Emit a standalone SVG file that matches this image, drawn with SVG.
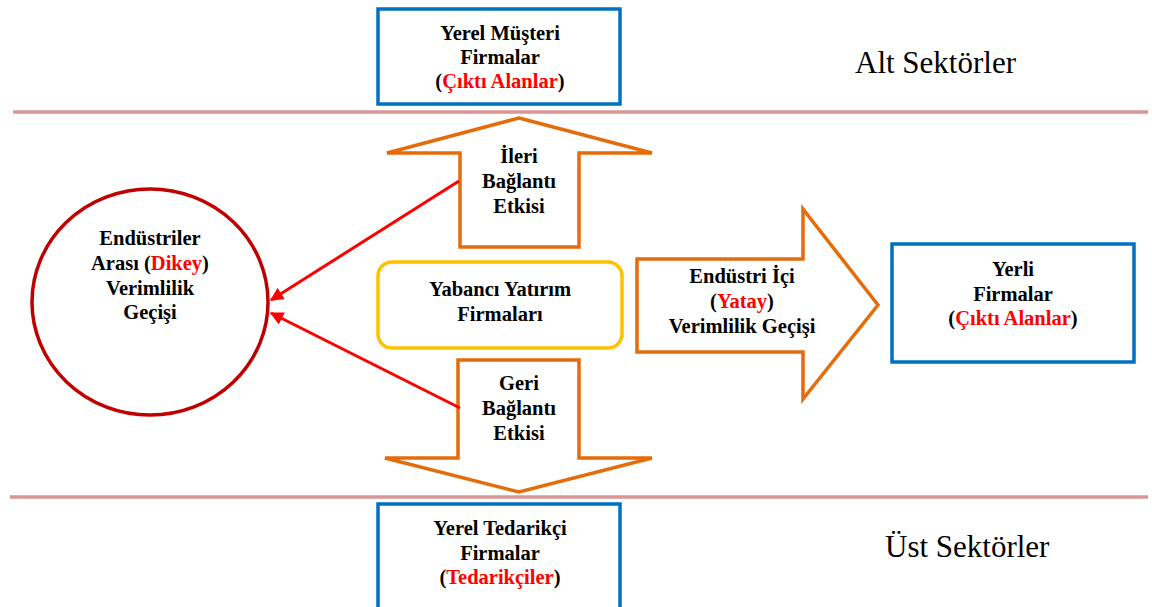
<svg xmlns="http://www.w3.org/2000/svg" width="1152" height="607" viewBox="0 0 1152 607" font-family="Liberation Serif, Times New Roman, serif">
<style>
svg text,svg tspan,#labels text,#musteri text,#ileri text,#dikey text,#yabanci text,#geri text,#yatay text,#yerli text,#tedarikci text{font-family:"Liberation Serif","Times New Roman",serif !important}
text{font-weight:bold;font-size:20.5px;fill:#000;text-anchor:middle}
.r{fill:#FF0000}
#labels text{font-weight:normal;font-size:31px;text-anchor:start}
.box{fill:#fff;stroke:#0070C0;stroke-width:3.5}
.arr{fill:#fff;stroke:#E46C0A;stroke-width:3.5;stroke-linejoin:miter}
.sep{stroke:#D99694;stroke-width:3.5}
.con{stroke:#FF0000;stroke-width:3;fill:none}
</style>
<defs>
<marker id="ah" viewBox="0 0 10 10" refX="9" refY="5" markerWidth="4.5" markerHeight="4.5" orient="auto" markerUnits="strokeWidth">
<path d="M0,0 L10,5 L0,10 z" fill="#FF0000"/>
</marker>
</defs>
<rect width="1152" height="607" fill="#fff"/>
<g id="separators">
<line class="sep" x1="13" y1="112" x2="1148" y2="112"/>
<line class="sep" x1="10" y1="497" x2="1148" y2="497"/>
</g>
<g id="labels">
<text x="855" y="73" style="font-family:'Liberation Serif',serif !important">Alt Sektörler</text>
<text x="885" y="557" style="font-family:'Liberation Serif',serif !important">Üst Sektörler</text>
</g>
<g id="musteri">
<rect class="box" x="378" y="9" width="242" height="95"/>
<text x="500" y="40" style="font-family:'Liberation Serif',serif !important">Yerel Müşteri</text>
<text x="500" y="64" style="font-family:'Liberation Serif',serif !important">Firmalar</text>
<text x="500" y="88" style="font-family:'Liberation Serif',serif !important">(<tspan class="r">Çıktı Alanlar</tspan>)</text>
</g>
<g id="ileri">
<path class="arr" d="M519,118 L652,153 L579,153 L579,247 L460,247 L460,153 L387,153 Z"/>
<text x="519" y="163" style="font-family:'Liberation Serif',serif !important">İleri</text>
<text x="519" y="188" style="font-family:'Liberation Serif',serif !important">Bağlantı</text>
<text x="519" y="213" style="font-family:'Liberation Serif',serif !important">Etkisi</text>
</g>
<g id="dikey">
<ellipse cx="150" cy="302" rx="118" ry="113" fill="#fff" stroke="#C00000" stroke-width="3.5"/>
<text x="150" y="245" style="font-family:'Liberation Serif',serif !important">Endüstriler</text>
<text x="150" y="270" style="font-family:'Liberation Serif',serif !important">Arası (<tspan class="r">Dikey</tspan>)</text>
<text x="150" y="295" style="font-family:'Liberation Serif',serif !important">Verimlilik</text>
<text x="150" y="319" style="font-family:'Liberation Serif',serif !important">Geçişi</text>
</g>
<g id="yabanci">
<rect x="378" y="262" width="244" height="86" rx="14" fill="#fff" stroke="#FFC000" stroke-width="3.5"/>
<text x="500" y="296" style="font-family:'Liberation Serif',serif !important">Yabancı Yatırım</text>
<text x="500" y="321" style="font-family:'Liberation Serif',serif !important">Firmaları</text>
</g>
<g id="geri">
<path class="arr" d="M458,360 L579,360 L579,458 L652,458 L519,492 L385,458 L458,458 Z"/>
<text x="519" y="390" style="font-family:'Liberation Serif',serif !important">Geri</text>
<text x="519" y="415" style="font-family:'Liberation Serif',serif !important">Bağlantı</text>
<text x="519" y="440" style="font-family:'Liberation Serif',serif !important">Etkisi</text>
</g>
<g id="yatay">
<path class="arr" d="M637,259 L803,259 L803,209 L878,305 L803,399 L803,352 L637,352 Z"/>
<text x="742" y="283" style="font-family:'Liberation Serif',serif !important">Endüstri İçi</text>
<text x="742" y="308" style="font-family:'Liberation Serif',serif !important">(<tspan class="r">Yatay</tspan>)</text>
<text x="742" y="333" style="font-family:'Liberation Serif',serif !important">Verimlilik Geçişi</text>
</g>
<g id="yerli">
<rect class="box" x="892" y="244" width="242" height="118"/>
<text x="1013" y="276" style="font-family:'Liberation Serif',serif !important">Yerli</text>
<text x="1013" y="301" style="font-family:'Liberation Serif',serif !important">Firmalar</text>
<text x="1013" y="325" style="font-family:'Liberation Serif',serif !important">(<tspan class="r">Çıktı Alanlar</tspan>)</text>
</g>
<g id="tedarikci">
<rect class="box" x="378" y="504" width="242" height="110"/>
<text x="500" y="535" style="font-family:'Liberation Serif',serif !important">Yerel Tedarikçi</text>
<text x="500" y="560" style="font-family:'Liberation Serif',serif !important">Firmalar</text>
<text x="500" y="584" style="font-family:'Liberation Serif',serif !important">(<tspan class="r">Tedarikçiler</tspan>)</text>
</g>
<g id="connectors">
<line class="con" x1="459" y1="181" x2="271" y2="300" marker-end="url(#ah)"/>
<line class="con" x1="460" y1="408" x2="271" y2="313" marker-end="url(#ah)"/>
</g>
</svg>
